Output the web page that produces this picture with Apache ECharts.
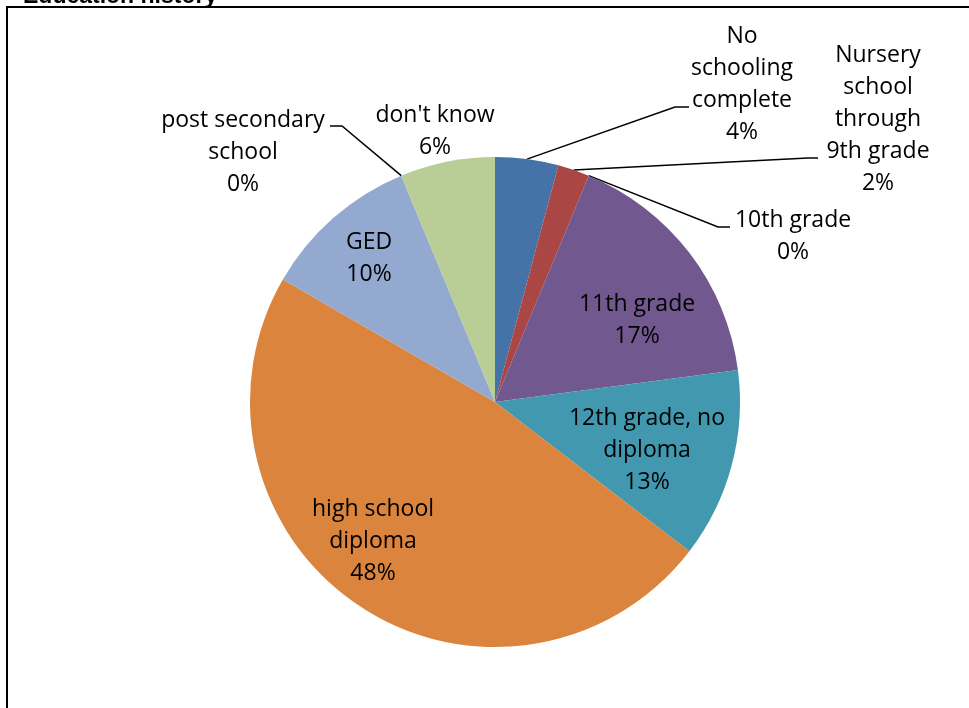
<!DOCTYPE html>
<html>
<head>
<meta charset="utf-8">
<script src="https://cdn.jsdelivr.net/npm/echarts@6/dist/echarts.min.js"></script>
<style>
  html, body { margin: 0; padding: 0; background: #fff; }
  #chart { width: 969px; height: 708px; }
</style>
</head>
<body>
<div id="chart"></div>
<script>
// Highest level of schooling completed (respondent counts)
const categories = [
  'No schooling complete',
  'Nursery school through 9th grade',
  '10th grade',
  '11th grade',
  '12th grade, no diploma',
  'high school diploma',
  'GED',
  'post secondary school',
  "don't know"
];
const counts = [2, 1, 0, 8, 6, 23, 5, 0, 3];

// Label text broken over lines
const labelText = [
  'No\nschooling\ncomplete',
  'Nursery\nschool\nthrough\n9th grade',
  '10th grade',
  '11th grade',
  '12th grade, no\ndiploma',
  'high school\ndiploma',
  'GED',
  'post secondary\nschool',
  "don't know"
];

const sliceColors = ['#4572A7', '#AA4643', '#89A54E', '#71588F', '#4198AF',
                     '#DB843D', '#93A9CF', '#D19392', '#B9CD96'];

// Which slices carry their label inside the pie
const insideLabel = [false, false, false, true, true, true, true, false, false];

// Label centres, and the bend of the leader lines for outside labels
const CX = 495, CY = 402, R = 245;
const labelSpots = {
  0: { x: 742, y: 84,  bend: [[675, 107], [689, 107]] },
  1: { x: 878, y: 119, bend: [[808, 158], [818, 158]] },
  2: { x: 793, y: 236, bend: [[718, 227], [730, 227]] },
  3: { x: 637, y: 320, bend: null },
  4: { x: 647, y: 450, bend: null },
  5: { x: 373, y: 541, bend: null },
  6: { x: 369, y: 258, bend: null },
  7: { x: 243, y: 152, bend: [[342, 126], [330, 126]] },
  8: { x: 435, y: 131, bend: null }
};

const total = counts.reduce((a, b) => a + b, 0);

const chart = echarts.init(document.getElementById('chart'), null, { renderer: 'canvas' });

const data = categories.map((name, i) => ({
  name: name,
  value: counts[i],
  itemStyle: { color: sliceColors[i] },
  label: { position: insideLabel[i] ? 'inside' : 'outside' },
  labelLine: { show: labelSpots[i].bend !== null }
}));

chart.setOption({
  animation: false,
  title: {
    text: 'Education history',
    left: 18,
    top: -20,
    textStyle: { fontFamily: 'Liberation Sans', fontWeight: 'bold', fontSize: 23, color: '#000' }
  },
  graphic: [{
    type: 'rect',
    shape: { x: 7, y: 7, width: 1100, height: 900 },
    style: { fill: '#fff', stroke: '#000', lineWidth: 2 },
    z: -1,
    silent: true
  }],
  series: [{
    type: 'pie',
    center: [CX, CY],
    radius: [0, R],
    startAngle: 90,
    clockwise: true,
    minAngle: 0,
    avoidLabelOverlap: false,
    stillShowZeroSum: true,
    itemStyle: { borderWidth: 0 },
    label: {
      show: true,
      color: '#000',
      fontFamily: 'Open Sans',
      fontSize: 23,
      lineHeight: 32,
      align: 'center',
      formatter: p => labelText[p.dataIndex] + '\n' + Math.round(p.value / total * 100) + '%'
    },
    labelLine: {
      lineStyle: { color: '#000', width: 1.5 },
      length: 20,
      length2: 10
    },
    labelLayout: function (params) {
      const spot = labelSpots[params.dataIndex];
      const out = { x: spot.x, y: spot.y, align: 'center', verticalAlign: 'middle' };
      if (spot.bend && params.labelLinePoints) {
        out.labelLinePoints = [params.labelLinePoints[0], spot.bend[0], spot.bend[1]];
      }
      return out;
    },
    data: data
  }]
});
</script>
</body>
</html>
